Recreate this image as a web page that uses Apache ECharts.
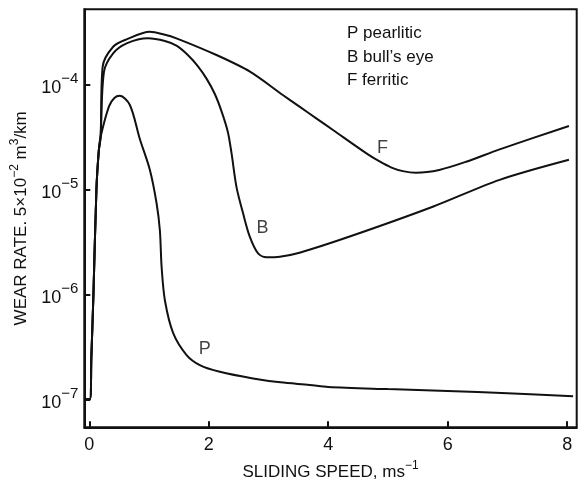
<!DOCTYPE html>
<html>
<head>
<meta charset="utf-8">
<script src="https://cdn.jsdelivr.net/npm/echarts@6/dist/echarts.min.js"></script>
<style>
  html, body { margin: 0; padding: 0; background: #fff; }
  #chart { width: 578px; height: 483px; }
</style>
</head>
<body>
<div id="chart"></div>
<script>
// sliding speed (m/s) and wear rate
const pX = [-0.08, 0.01, 0.035, 0.07, 0.12, 0.16, 0.19, 0.33, 0.42, 0.51, 0.68, 0.848, 1.015, 1.127, 1.182, 1.211, 1.266, 1.405, 1.629, 1.851, 2.186, 2.742, 3.2, 3.69, 4.0, 5.0, 6.0, 7.0, 8.1];
const pY = [1e-7, 1e-7, 2.51e-7, 1e-6, 1e-5, 2.34e-5, 3.16e-5, 6.17e-5, 7.41e-5, 7.76e-5, 6.35e-5, 3.0e-5, 1.53e-5, 7.36e-6, 4.07e-6, 1.83e-6, 8.77e-7, 4.26e-7, 2.64e-7, 2.12e-7, 1.83e-7, 1.58e-7, 1.45e-7, 1.37e-7, 1.31e-7, 1.25e-7, 1.2e-7, 1.14e-7, 1.07e-7];

const bX = [-0.08, 0.01, 0.035, 0.07, 0.12, 0.16, 0.19, 0.247, 0.4, 0.625, 0.982, 1.266, 1.467, 1.65, 1.817, 1.968, 2.102, 2.219, 2.32, 2.381, 2.465, 2.575, 2.687, 2.826, 2.967, 3.19, 3.52, 4.36, 5.75, 6.87, 8.03];
const bY = [1e-7, 1e-7, 2.51e-7, 1e-6, 1e-5, 2.34e-5, 3.16e-5, 1.32e-4, 1.97e-4, 2.45e-4, 2.74e-4, 2.58e-4, 2.32e-4, 1.9e-4, 1.49e-4, 1.12e-4, 8.09e-5, 5.44e-5, 3.52e-5, 2.22e-5, 1.05e-5, 5.9e-6, 3.54e-6, 2.45e-6, 2.25e-6, 2.28e-6, 2.49e-6, 3.55e-6, 6.82e-6, 1.23e-5, 1.91e-5];

const fX = [-0.08, 0.01, 0.035, 0.07, 0.12, 0.16, 0.19, 0.224, 0.4, 0.625, 1.015, 1.25, 1.46, 2.13, 2.69, 3.24, 3.52, 3.8, 4.08, 4.64, 4.86, 5.06, 5.25, 5.47, 5.86, 6.31, 6.87, 8.03];
const fY = [1e-7, 1e-7, 2.51e-7, 1e-6, 1e-5, 2.34e-5, 3.16e-5, 1.47e-4, 2.28e-4, 2.68e-4, 3.16e-4, 2.98e-4, 2.74e-4, 1.9e-4, 1.32e-4, 7.91e-5, 6.12e-5, 4.74e-5, 3.67e-5, 2.2e-5, 1.84e-5, 1.61e-5, 1.49e-5, 1.44e-5, 1.53e-5, 1.83e-5, 2.4e-5, 4.01e-5];

// curve letters placed next to the lines
const tagText = ['P', 'B', 'F'];
const tagX = [1.935, 2.9, 4.91];
const tagY = [3.02e-7, 4.28e-6, 2.47e-5];

const xTicks = [0, 2, 4, 6, 8];
const yTicks = [1e-7, 1e-6, 1e-5, 1e-4];

const legendLines = ['P pearlitic', 'B bull\u2019s eye', 'F ferritic'];

const font = 'Liberation Sans, Arial, Helvetica, sans-serif';
const ink = '#111';

const pairs = (xs, ys) => xs.map((x, i) => [x, ys[i]]);

const nameRich = {
  n: { fontSize: 17, fontFamily: font, color: ink, lineHeight: 22, verticalAlign: 'bottom' },
  s: { fontSize: 12, fontFamily: font, color: ink, lineHeight: 14, verticalAlign: 'top' }
};

const lineStyle = { color: ink, width: 2 };

const chart = echarts.init(document.getElementById('chart'));
chart.setOption({
  backgroundColor: '#fff',
  animation: false,
  title: {
    text: legendLines.join('\n'),
    left: 342,
    top: 17,
    textStyle: { fontFamily: font, fontWeight: 'normal', fontSize: 17, lineHeight: 23.5, color: ink }
  },
  grid: {
    left: 84.3, right: 1.3, top: 9.3, bottom: 55.7,
    outerBoundsMode: 'none',
    show: true, borderColor: ink, borderWidth: 2
  },
  xAxis: {
    type: 'value',
    min: -0.083,
    max: 8.16,
    name: '{n|SLIDING SPEED, ms}{s|\u22121}',
    nameLocation: 'middle',
    nameGap: 29,
    nameTextStyle: { rich: nameRich },
    axisLine: { onZero: false, lineStyle: { color: ink, width: 2 } },
    axisTick: { inside: true, length: 6, customValues: xTicks, lineStyle: { color: ink, width: 2 } },
    axisLabel: { customValues: xTicks, margin: 9, fontFamily: font, fontSize: 18, color: ink },
    splitLine: { show: false }
  },
  yAxis: {
    type: 'log',
    logBase: 10,
    min: 5.41e-8,
    max: 5.18e-4,
    name: '{n|WEAR RATE. 5\u00d710}{s|\u22122}{n| m}{s|3}{n|/km}',
    nameLocation: 'middle',
    nameGap: 51,
    nameTextStyle: { rich: nameRich },
    axisLine: { onZero: false, lineStyle: { color: ink, width: 2 } },
    axisTick: { inside: true, length: 6, customValues: yTicks, lineStyle: { color: ink, width: 2 } },
    axisLabel: {
      customValues: yTicks,
      margin: 6,
      formatter: v => '{b|10}{s|\u2212' + Math.round(-Math.log10(v)) + '}',
      rich: {
        b: { fontSize: 18, fontFamily: font, color: ink, lineHeight: 26, verticalAlign: 'bottom' },
        s: { fontSize: 15, fontFamily: font, color: ink, lineHeight: 14, verticalAlign: 'top' }
      }
    },
    splitLine: { show: false }
  },
  series: [
    { name: 'P', type: 'line', data: pairs(pX, pY), showSymbol: false, smooth: 0.3, lineStyle },
    { name: 'B', type: 'line', data: pairs(bX, bY), showSymbol: false, smooth: 0.3, lineStyle },
    { name: 'F', type: 'line', data: pairs(fX, fY), showSymbol: false, smooth: 0.3, lineStyle },
    {
      type: 'scatter',
      symbolSize: 0,
      data: tagX.map((x, i) => ({ value: [x, tagY[i]], name: tagText[i] })),
      label: {
        show: true, position: 'inside', formatter: '{b}',
        fontFamily: font, fontSize: 18, color: ink
      }
    }
  ]
});
</script>
</body>
</html>
